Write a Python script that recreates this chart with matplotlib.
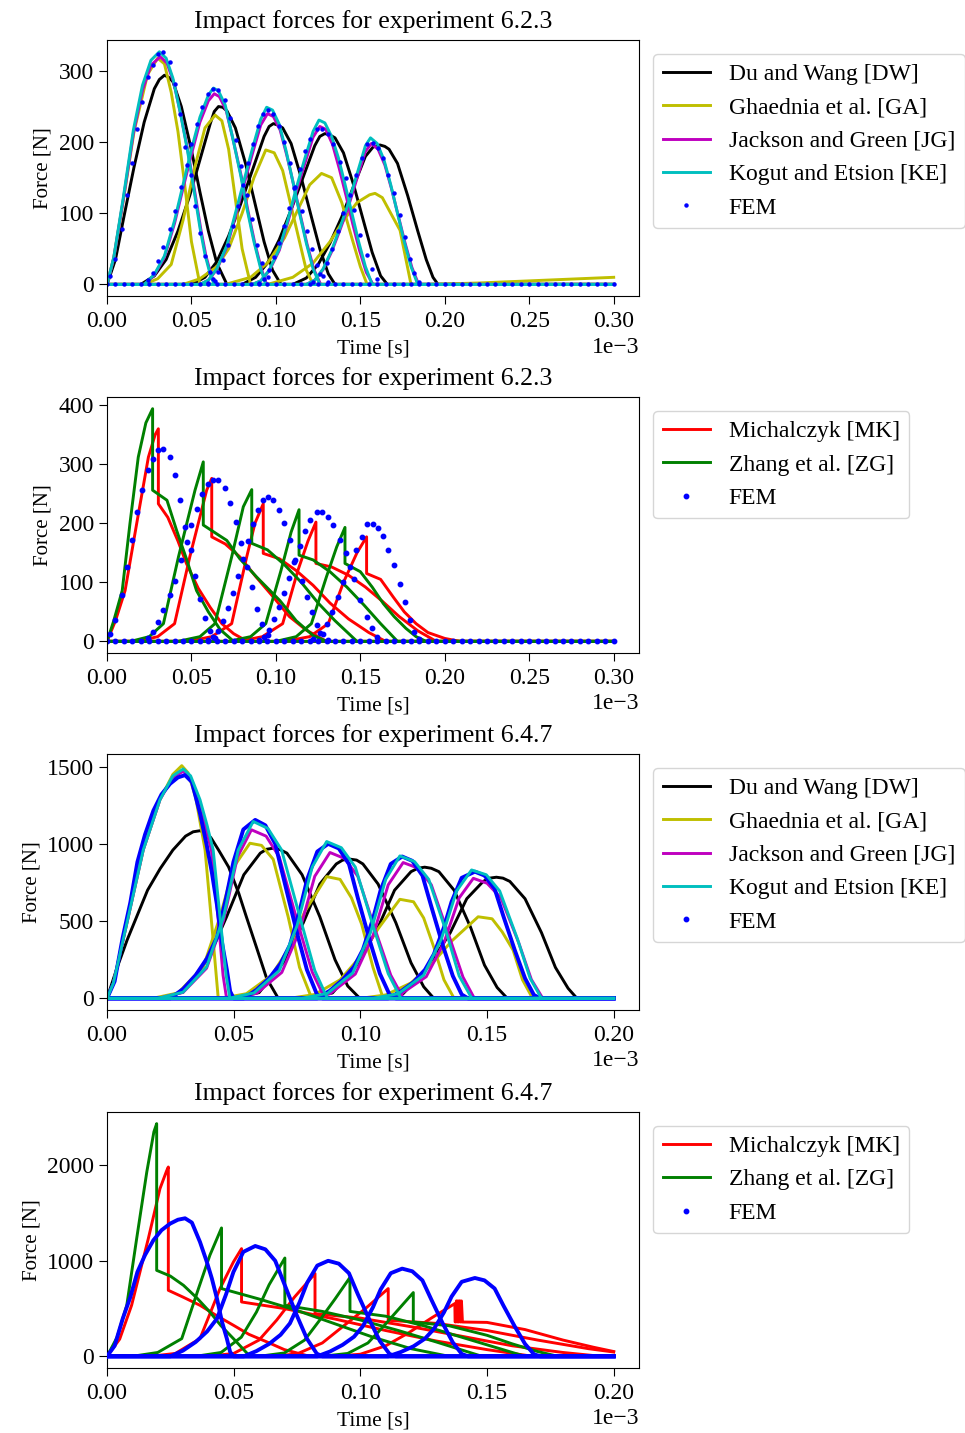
import matplotlib
matplotlib.use('Agg')
import matplotlib.pyplot as plt
from matplotlib.lines import Line2D

plt.rcParams['font.family'] = ['Liberation Serif', 'DejaVu Serif']
plt.rcParams['font.size'] = 17

# times are written in units of 1e-3 s (the axis offset), forces in N

# ---------------- experiment 6.2.3 ----------------
dw1_t = [[0, 0.005, 0.010, 0.016, 0.022, 0.028, 0.031, 0.034, 0.0365, 0.039, 0.044, 0.0496, 0.055, 0.060, 0.065, 0.071, 0.30],
         [0, 0.020, 0.028, 0.035, 0.042, 0.049, 0.055, 0.061, 0.0635, 0.066, 0.0685, 0.071, 0.076, 0.082, 0.088, 0.093, 0.098, 0.103, 0.30],
         [0, 0.050, 0.058, 0.065, 0.072, 0.079, 0.086, 0.093, 0.096, 0.0985, 0.101, 0.104, 0.109, 0.115, 0.121, 0.126, 0.131, 0.135, 0.30],
         [0, 0.080, 0.088, 0.095, 0.102, 0.109, 0.116, 0.123, 0.126, 0.129, 0.132, 0.135, 0.140, 0.146, 0.152, 0.157, 0.162, 0.166, 0.30],
         [0, 0.110, 0.118, 0.125, 0.132, 0.139, 0.146, 0.153, 0.1575, 0.1616, 0.1645, 0.167, 0.172, 0.178, 0.184, 0.189, 0.193, 0.196, 0.30]]
dw1_f = [[0, 35, 95, 165, 228, 275, 288, 294, 291, 285, 250, 193, 130, 75, 30, 0, 0],
         [0, 0, 12, 35, 75, 125, 175, 225, 243, 250, 249, 244, 220, 170, 110, 60, 20, 0, 0],
         [0, 0, 10, 32, 68, 112, 160, 208, 222, 226, 224, 220, 198, 150, 95, 50, 15, 0, 0],
         [0, 0, 10, 30, 63, 105, 150, 195, 208, 212, 210, 206, 185, 140, 88, 45, 12, 0, 0],
         [0, 0, 9, 28, 58, 95, 138, 180, 193, 196, 194, 190, 170, 125, 75, 35, 10, 0, 0]]

ga1_t = [[0, 0.004, 0.010, 0.016, 0.024, 0.030, 0.034, 0.038, 0.042, 0.046, 0.050, 0.055, 0.30],
         [0, 0.022, 0.030, 0.038, 0.045, 0.052, 0.058, 0.064, 0.068, 0.072, 0.076, 0.080, 0.085, 0.30],
         [0, 0.045, 0.055, 0.065, 0.072, 0.080, 0.087, 0.094, 0.099, 0.104, 0.109, 0.114, 0.118, 0.122, 0.30],
         [0, 0.070, 0.085, 0.095, 0.105, 0.113, 0.120, 0.127, 0.133, 0.139, 0.145, 0.150, 0.154, 0.30],
         [0, 0.095, 0.110, 0.122, 0.132, 0.140, 0.148, 0.1555, 0.1587, 0.163, 0.168, 0.1735, 0.177, 0.180, 0.30],
         [0, 0.190, 0.220, 0.250, 0.280, 0.300]]
ga1_f = [[0, 38, 123, 215, 295, 318, 310, 270, 215, 140, 60, 0, 0],
         [0, 0, 8, 28, 90, 165, 220, 238, 230, 190, 120, 50, 0, 0],
         [0, 0, 8, 25, 50, 100, 150, 189, 185, 160, 110, 60, 20, 0, 0],
         [0, 0, 10, 30, 65, 105, 140, 156, 150, 115, 65, 25, 0, 0],
         [0, 0, 10, 30, 60, 90, 115, 126, 128, 122, 100, 76, 35, 0, 0],
         [0, 0, 2, 5, 8, 10]]

jg1_t = [[0, 0.004, 0.0097, 0.0156, 0.021, 0.026, 0.0315, 0.0355, 0.0395, 0.044, 0.048, 0.0515, 0.0555, 0.0585, 0.0615, 0.064, 0.30],
         [0, 0.022, 0.028, 0.034, 0.040, 0.045, 0.050, 0.055, 0.060, 0.0635, 0.0665, 0.0705, 0.075, 0.0795, 0.0835, 0.0875, 0.0915, 0.0945, 0.30],
         [0, 0.055, 0.060, 0.065, 0.071, 0.076, 0.081, 0.086, 0.091, 0.095, 0.0985, 0.1025, 0.1065, 0.1105, 0.1145, 0.1185, 0.1225, 0.1265, 0.30],
         [0, 0.086, 0.091, 0.096, 0.102, 0.107, 0.112, 0.117, 0.122, 0.126, 0.1295, 0.1335, 0.1375, 0.1415, 0.1455, 0.1495, 0.1535, 0.1575, 0.30],
         [0, 0.118, 0.123, 0.128, 0.133, 0.138, 0.143, 0.148, 0.153, 0.1565, 0.1605, 0.1645, 0.1685, 0.1725, 0.1765, 0.1805, 0.1845, 0.30]]
jg1_f = [[0, 37, 120, 212, 273, 308, 320, 311, 284, 235, 186, 137, 78, 41, 14, 0, 0],
         [0, 0, 13, 38, 86, 135, 183, 228, 258, 268, 264, 245, 200, 152, 103, 58, 21, 0, 0],
         [0, 0, 6, 21, 53, 96, 140, 183, 224, 240, 236, 217, 181, 140, 97, 56, 21, 0, 0],
         [0, 0, 5, 19, 48, 87, 130, 169, 207, 222, 218, 197, 163, 125, 85, 48, 17, 0, 0],
         [0, 0, 6, 21, 46, 77, 110, 149, 187, 198, 190, 168, 134, 96, 58, 24, 0, 0]]

ke1_t = [[0, 0.004, 0.0097, 0.0156, 0.021, 0.026, 0.031, 0.035, 0.039, 0.0435, 0.0475, 0.051, 0.055, 0.058, 0.061, 0.0635, 0.30],
         [0, 0.022, 0.028, 0.034, 0.040, 0.045, 0.050, 0.055, 0.060, 0.063, 0.066, 0.070, 0.0745, 0.079, 0.083, 0.087, 0.091, 0.094, 0.30],
         [0, 0.055, 0.060, 0.065, 0.071, 0.076, 0.081, 0.086, 0.091, 0.0945, 0.098, 0.102, 0.106, 0.110, 0.114, 0.118, 0.122, 0.126, 0.30],
         [0, 0.086, 0.091, 0.096, 0.102, 0.107, 0.112, 0.117, 0.122, 0.1255, 0.129, 0.133, 0.137, 0.141, 0.145, 0.149, 0.153, 0.157, 0.30],
         [0, 0.118, 0.123, 0.128, 0.133, 0.138, 0.143, 0.148, 0.153, 0.156, 0.160, 0.164, 0.168, 0.172, 0.176, 0.180, 0.184, 0.30]]
ke1_f = [[0, 38, 123, 217, 280, 315, 327, 318, 290, 240, 190, 140, 80, 42, 15, 0, 0],
         [0, 0, 14, 40, 90, 140, 190, 235, 266, 276, 272, 252, 205, 155, 105, 60, 22, 0, 0],
         [0, 0, 6, 22, 55, 100, 145, 190, 232, 249, 245, 225, 188, 145, 100, 58, 22, 0, 0],
         [0, 0, 5, 20, 50, 90, 135, 176, 215, 231, 227, 208, 178, 140, 100, 60, 25, 0, 0],
         [0, 0, 6, 22, 48, 80, 115, 155, 195, 206, 198, 175, 140, 100, 60, 25, 0, 0]]

mk1_t = [[0, 0.005, 0.0107, 0.0176, 0.0245, 0.0285, 0.0304, 0.0304, 0.036, 0.042, 0.047, 0.054, 0.061, 0.068, 0.075, 0.083, 0.30],
         [0, 0.018, 0.030, 0.040, 0.049, 0.059, 0.062, 0.062, 0.070, 0.0787, 0.088, 0.0985, 0.108, 0.118, 0.130, 0.30],
         [0, 0.048, 0.062, 0.0738, 0.0827, 0.0876, 0.0925, 0.0925, 0.102, 0.112, 0.122, 0.132, 0.143, 0.155, 0.165, 0.30],
         [0, 0.078, 0.092, 0.104, 0.113, 0.119, 0.1237, 0.1237, 0.133, 0.143, 0.153, 0.163, 0.173, 0.184, 0.195, 0.30],
         [0, 0.105, 0.120, 0.131, 0.140, 0.148, 0.1537, 0.1537, 0.162, 0.1695, 0.176, 0.183, 0.190, 0.200, 0.209, 0.30]]
mk1_f = [[0, 35, 86, 200, 312, 350, 360, 233, 210, 170, 132, 90, 58, 30, 13, 0, 0],
         [0, 0, 8, 30, 143, 256, 276, 177, 165, 143, 110, 75, 42, 19, 0, 0],
         [0, 0, 8, 30, 143, 200, 233, 149, 140, 120, 95, 65, 38, 15, 0, 0],
         [0, 0, 8, 30, 120, 170, 202, 132, 126, 112, 92, 68, 42, 18, 0, 0],
         [0, 0, 8, 30, 100, 150, 177, 115, 105, 75, 50, 30, 15, 5, 0, 0]]

zg1_t = [[0, 0.004, 0.009, 0.0136, 0.0185, 0.023, 0.027, 0.027, 0.0355, 0.0412, 0.047, 0.053, 0.060, 0.067, 0.075, 0.30],
         [0, 0.014, 0.025, 0.0334, 0.0423, 0.0521, 0.057, 0.057, 0.065, 0.0709, 0.0786, 0.0886, 0.1024, 0.112, 0.122, 0.130, 0.30],
         [0, 0.042, 0.055, 0.0639, 0.0738, 0.0807, 0.0857, 0.0857, 0.095, 0.105, 0.115, 0.125, 0.135, 0.148, 0.30],
         [0, 0.072, 0.085, 0.094, 0.103, 0.109, 0.1137, 0.1137, 0.122, 0.132, 0.142, 0.152, 0.162, 0.172, 0.30],
         [0, 0.100, 0.112, 0.121, 0.130, 0.136, 0.1409, 0.1409, 0.150, 0.157, 0.1636, 0.170, 0.177, 0.183, 0.189, 0.30]]
zg1_f = [[0, 35, 86, 200, 312, 370, 394, 256, 239, 188, 140, 86, 50, 20, 0, 0],
         [0, 0, 8, 30, 143, 256, 304, 197, 182, 171, 140, 109, 69, 35, 10, 0, 0],
         [0, 0, 8, 30, 143, 228, 257, 166, 155, 130, 100, 65, 35, 0, 0],
         [0, 0, 8, 30, 120, 185, 223, 146, 138, 118, 92, 62, 30, 0, 0],
         [0, 0, 8, 30, 110, 160, 193, 132, 118, 92, 64, 42, 22, 8, 0, 0]]

fem1_t = [[0.0017, 0.0047, 0.0087, 0.0116, 0.0146, 0.0176, 0.0205, 0.024, 0.0274, 0.0304, 0.0334, 0.0371, 0.0403,
           0.0432, 0.0462, 0.0495, 0.0521, 0.055, 0.058, 0.061, 0.064],
          [0.0245, 0.0274, 0.0304, 0.0333, 0.0373, 0.0403, 0.0436, 0.0472, 0.0497, 0.0531, 0.056, 0.060, 0.063, 0.0659,
           0.0699, 0.0728, 0.0762, 0.0793, 0.0827, 0.086, 0.0886, 0.0916, 0.0955],
          [0.0595, 0.0625, 0.0655, 0.0685, 0.0715, 0.0745, 0.0775, 0.0805, 0.0835, 0.0865, 0.0895, 0.0926, 0.0955, 0.0985,
           0.102, 0.105, 0.1083, 0.1113, 0.1153, 0.1182, 0.1212, 0.1241, 0.128, 0.131],
          [0.090, 0.093, 0.096, 0.099, 0.102, 0.105, 0.108, 0.111, 0.114, 0.117, 0.120, 0.1241, 0.127, 0.131, 0.134,
           0.138, 0.1415, 0.146, 0.150, 0.1537, 0.157, 0.160],
          [0.122, 0.126, 0.130, 0.133, 0.1366, 0.140, 0.1439, 0.1474, 0.1508, 0.1537, 0.1577, 0.1606, 0.1636, 0.1666,
           0.1701, 0.1735, 0.1764, 0.1794, 0.182, 0.185]]
fem1_f = [[12, 36, 78, 126, 171, 219, 257, 291, 309, 324, 326, 312, 281, 240, 193, 154, 110, 72, 40, 17, 5],
          [6, 16, 33, 53, 78, 103, 137, 168, 197, 225, 250, 267, 274, 273, 259, 234, 203, 166, 126, 92, 55, 30, 10],
          [2, 7, 18, 34, 56, 82, 110, 140, 170, 198, 222, 239, 245, 239, 223, 200, 171, 137, 103, 75, 50, 27, 12, 3],
          [2, 8, 20, 38, 58, 82, 108, 135, 162, 187, 205, 219, 219, 211, 197, 172, 149, 105, 70, 41, 22, 8],
          [4, 14, 30, 50, 75, 100, 126, 154, 177, 198, 199, 192, 178, 154, 129, 98, 67, 36, 16, 4]]
fem1_zero_t = [0.000, 0.005, 0.010, 0.015, 0.020, 0.025, 0.030, 0.035, 0.040, 0.045, 0.050, 0.055, 0.060, 0.065,
               0.070, 0.075, 0.080, 0.085, 0.090, 0.095, 0.100, 0.105, 0.110, 0.115, 0.120, 0.125, 0.130, 0.135,
               0.140, 0.145, 0.150, 0.155, 0.160, 0.165, 0.170, 0.175, 0.180, 0.185, 0.190, 0.195, 0.200, 0.205,
               0.210, 0.215, 0.220, 0.225, 0.230, 0.235, 0.240, 0.245, 0.250, 0.255, 0.260, 0.265, 0.270, 0.275,
               0.280, 0.285, 0.290, 0.295, 0.300]

# ---------------- experiment 6.4.7 ----------------
dw3_t = [[0, 0.004, 0.008, 0.0117, 0.016, 0.021, 0.026, 0.031, 0.034, 0.0367, 0.039, 0.041, 0.044, 0.048, 0.052, 0.055, 0.059, 0.063, 0.0676, 0.20],
         [0, 0.020, 0.030, 0.040, 0.0472, 0.054, 0.0605, 0.063, 0.0656, 0.068, 0.071, 0.077, 0.084, 0.090, 0.095, 0.0998, 0.20],
         [0, 0.050, 0.060, 0.070, 0.0775, 0.084, 0.0905, 0.093, 0.0959, 0.0985, 0.101, 0.107, 0.114, 0.120, 0.125, 0.129, 0.20],
         [0, 0.079, 0.089, 0.099, 0.107, 0.1135, 0.120, 0.1227, 0.1254, 0.128, 0.131, 0.137, 0.1435, 0.149, 0.154, 0.158, 0.20],
         [0, 0.107, 0.117, 0.127, 0.1355, 0.142, 0.1485, 0.151, 0.1537, 0.1563, 0.159, 0.165, 0.1715, 0.177, 0.182, 0.1855, 0.20]]
dw3_f = [[0, 200, 380, 528, 700, 840, 960, 1050, 1078, 1085, 1072, 1040, 961, 850, 680, 528, 330, 130, 0, 0],
         [0, 0, 40, 260, 528, 800, 940, 965, 972, 965, 940, 800, 528, 250, 80, 0, 0],
         [0, 0, 37, 240, 490, 740, 870, 895, 901, 895, 870, 740, 490, 230, 75, 0, 0],
         [0, 0, 35, 225, 460, 700, 820, 842, 849, 842, 820, 700, 460, 215, 70, 0, 0],
         [0, 0, 32, 210, 425, 645, 757, 778, 784, 778, 757, 645, 425, 200, 65, 0, 0]]

ga3_t = [[0, 0.0025, 0.0084, 0.0143, 0.0209, 0.026, 0.0295, 0.032, 0.035, 0.0387, 0.0415, 0.0439, 0.20],
         [0, 0.018, 0.028, 0.038, 0.0446, 0.050, 0.0564, 0.061, 0.0656, 0.0715, 0.076, 0.0808, 0.20],
         [0, 0.045, 0.055, 0.065, 0.072, 0.078, 0.0867, 0.092, 0.0965, 0.1005, 0.105, 0.109, 0.20],
         [0, 0.072, 0.082, 0.092, 0.100, 0.107, 0.1156, 0.121, 0.125, 0.1294, 0.133, 0.137, 0.20],
         [0, 0.100, 0.110, 0.120, 0.128, 0.136, 0.1465, 0.152, 0.156, 0.1603, 0.164, 0.168, 0.20]]
ga3_f = [[0, 97, 528, 961, 1286, 1450, 1506, 1460, 1300, 961, 450, 0, 0],
         [0, 0, 35, 203, 528, 850, 1004, 990, 900, 528, 200, 0, 0],
         [0, 0, 30, 150, 330, 560, 788, 770, 650, 480, 200, 0, 0],
         [0, 0, 25, 120, 270, 450, 641, 625, 520, 312, 120, 0, 0],
         [0, 0, 22, 100, 220, 370, 528, 515, 430, 312, 120, 0, 0]]

jg3_t = [[0, 0.0025, 0.0084, 0.0143, 0.0209, 0.026, 0.0301, 0.033, 0.0362, 0.039, 0.0412, 0.0438, 0.0458, 0.0472, 0.20],
         [0, 0.020, 0.030, 0.0393, 0.046, 0.0515, 0.057, 0.0628, 0.068, 0.075, 0.081, 0.086, 0.20],
         [0, 0.049, 0.059, 0.069, 0.076, 0.082, 0.088, 0.0938, 0.099, 0.106, 0.112, 0.117, 0.20],
         [0, 0.078, 0.088, 0.098, 0.105, 0.111, 0.1169, 0.1227, 0.128, 0.135, 0.1405, 0.145, 0.20],
         [0, 0.106, 0.116, 0.126, 0.133, 0.139, 0.1446, 0.150, 0.1555, 0.1625, 0.1675, 0.172, 0.20]]
jg3_f = [[0, 97, 528, 961, 1286, 1430, 1470, 1420, 1286, 1100, 961, 528, 150, 0, 0],
         [0, 0, 38, 195, 505, 915, 1091, 1050, 915, 505, 170, 0, 0],
         [0, 0, 32, 168, 437, 790, 944, 905, 790, 437, 150, 0, 0],
         [0, 0, 30, 157, 405, 735, 879, 843, 735, 405, 138, 0, 0],
         [0, 0, 28, 140, 360, 650, 777, 745, 650, 360, 122, 0, 0]]

ke3_t = [[0, 0.0025, 0.0084, 0.0143, 0.0209, 0.026, 0.0301, 0.033, 0.0367, 0.0395, 0.0419, 0.0446, 0.047, 0.0485, 0.20],
         [0, 0.020, 0.030, 0.0393, 0.046, 0.0518, 0.0577, 0.0635, 0.0689, 0.0761, 0.082, 0.087, 0.20],
         [0, 0.048, 0.058, 0.068, 0.075, 0.081, 0.0867, 0.0925, 0.098, 0.105, 0.111, 0.116, 0.20],
         [0, 0.077, 0.087, 0.097, 0.104, 0.110, 0.1156, 0.1214, 0.127, 0.134, 0.139, 0.144, 0.20],
         [0, 0.105, 0.115, 0.125, 0.132, 0.138, 0.1439, 0.1497, 0.155, 0.162, 0.167, 0.1715, 0.20]]
ke3_f = [[0, 97, 528, 961, 1286, 1440, 1485, 1440, 1286, 1120, 961, 528, 150, 0, 0],
         [0, 0, 40, 203, 528, 961, 1145, 1100, 961, 528, 180, 0, 0],
         [0, 0, 35, 180, 470, 850, 1015, 975, 850, 470, 160, 0, 0],
         [0, 0, 32, 165, 425, 770, 922, 885, 770, 425, 145, 0, 0],
         [0, 0, 30, 150, 385, 695, 831, 800, 695, 385, 130, 0, 0]]

mk4_t = [[0, 0.005, 0.0097, 0.0163, 0.0209, 0.0235, 0.0242, 0.0242, 0.030, 0.0367, 0.043, 0.0499, 0.056, 0.063, 0.070, 0.080, 0.20],
         [0, 0.017, 0.027, 0.0367, 0.0446, 0.0499, 0.0531, 0.0531, 0.070, 0.090, 0.110, 0.130, 0.150, 0.168, 0.20],
         [0, 0.040, 0.050, 0.060, 0.067, 0.074, 0.0821, 0.0821, 0.100, 0.120, 0.140, 0.160, 0.180, 0.195, 0.20],
         [0, 0.065, 0.075, 0.085, 0.093, 0.102, 0.111, 0.111, 0.130, 0.150, 0.170, 0.190, 0.200],
         [0, 0.090, 0.100, 0.110, 0.119, 0.128, 0.1373, 0.1374, 0.1378, 0.1379, 0.1383, 0.1384, 0.1388, 0.1389,
          0.1393, 0.1394, 0.1398, 0.1399, 0.1403, 0.150, 0.165, 0.180, 0.192, 0.200]]
mk4_f = [[0, 180, 534, 1232, 1755, 1940, 1982, 691, 620, 534, 430, 325, 230, 152, 70, 0, 0],
         [0, 0, 30, 185, 709, 988, 1127, 569, 500, 390, 270, 160, 70, 0, 0],
         [0, 0, 30, 170, 380, 620, 866, 447, 400, 310, 210, 110, 40, 0, 0],
         [0, 0, 25, 140, 310, 500, 709, 377, 345, 270, 170, 80, 45],
         [0, 0, 22, 110, 245, 400, 552, 360, 360, 580, 580, 360, 360, 580, 580, 360, 360, 580, 359, 355, 280,
          170, 95, 50]]

zg4_t = [[0, 0.004, 0.0078, 0.0117, 0.0157, 0.0185, 0.0196, 0.0196, 0.025, 0.0302, 0.0355, 0.0406, 0.045, 0.0499, 0.0564, 0.20],
         [0, 0.010, 0.020, 0.0295, 0.0361, 0.0406, 0.0452, 0.0452, 0.060, 0.075, 0.090, 0.105, 0.120, 0.135, 0.20],
         [0, 0.035, 0.045, 0.053, 0.059, 0.064, 0.0702, 0.0702, 0.085, 0.100, 0.115, 0.130, 0.148, 0.20],
         [0, 0.060, 0.070, 0.078, 0.084, 0.090, 0.0959, 0.0959, 0.110, 0.125, 0.140, 0.155, 0.165, 0.20],
         [0, 0.085, 0.095, 0.103, 0.109, 0.115, 0.1209, 0.1209, 0.135, 0.150, 0.160, 0.170, 0.178, 0.20]]
zg4_f = [[0, 200, 534, 1232, 1930, 2350, 2436, 900, 840, 743, 610, 464, 320, 185, 0, 0],
         [0, 0, 40, 185, 709, 1058, 1344, 709, 600, 480, 340, 200, 80, 0, 0],
         [0, 0, 40, 200, 464, 750, 1029, 534, 470, 380, 270, 150, 0, 0],
         [0, 0, 35, 170, 380, 600, 826, 470, 420, 320, 200, 80, 0, 0],
         [0, 0, 30, 140, 310, 490, 667, 359, 320, 220, 130, 50, 0, 0]]

fem3_t = [[0, 0.003, 0.0062, 0.0092, 0.012, 0.0150, 0.0183, 0.0215, 0.0249, 0.0280, 0.0308, 0.0335, 0.0367, 0.0394,
           0.0414, 0.0434, 0.0454, 0.0473, 0.0486, 0.050, 0.20],
          [0, 0.025, 0.030, 0.035, 0.0395, 0.0434, 0.047, 0.0499, 0.0538, 0.0585, 0.0625, 0.0664, 0.0702, 0.0749,
           0.0789, 0.0828, 0.085, 0.20],
          [0, 0.054, 0.059, 0.064, 0.0685, 0.0722, 0.076, 0.079, 0.083, 0.0873, 0.0915, 0.0955, 0.099, 0.1037,
           0.1077, 0.1115, 0.114, 0.20],
          [0, 0.083, 0.088, 0.093, 0.0975, 0.101, 0.105, 0.108, 0.112, 0.1165, 0.1205, 0.1245, 0.128, 0.1325,
           0.1365, 0.140, 0.1425, 0.20],
          [0, 0.111, 0.116, 0.121, 0.1255, 0.129, 0.133, 0.136, 0.140, 0.1452, 0.149, 0.153, 0.1565, 0.161,
           0.165, 0.1685, 0.171, 0.20]]
fem3_f = [[0, 110, 394, 620, 883, 1060, 1215, 1320, 1389, 1430, 1445, 1400, 1197, 988, 813, 604, 360, 185, 45, 0, 0],
          [0, 0, 60, 150, 260, 394, 650, 883, 1093, 1155, 1120, 1000, 743, 429, 185, 28, 0, 0],
          [0, 0, 55, 130, 225, 345, 565, 770, 950, 1000, 970, 870, 650, 375, 160, 25, 0, 0],
          [0, 0, 50, 120, 205, 315, 515, 700, 870, 918, 890, 795, 595, 345, 145, 25, 0, 0],
          [0, 0, 45, 105, 185, 285, 460, 625, 780, 820, 795, 710, 530, 310, 130, 22, 0, 0]]

x_ticks_623 = [0.00, 0.05, 0.10, 0.15, 0.20, 0.25, 0.30]
x_ticks_647 = [0.00, 0.05, 0.10, 0.15, 0.20]
y_ticks = [[0, 100, 200, 300], [0, 100, 200, 300, 400], [0, 500, 1000, 1500], [0, 1000, 2000]]
titles = ['Impact forces for experiment 6.2.3', 'Impact forces for experiment 6.2.3',
          'Impact forces for experiment 6.4.7', 'Impact forces for experiment 6.4.7']

lab_dw = 'Du and Wang [DW]'
lab_ga = 'Ghaednia et al. [GA]'
lab_jg = 'Jackson and Green [JG]'
lab_ke = 'Kogut and Etsion [KE]'
lab_mk = 'Michalczyk [MK]'
lab_zg = 'Zhang et al. [ZG]'


def draw(ax, t_list, f_list, color, label, lw=2.1, zorder=2):
    for i, (t, f) in enumerate(zip(t_list, f_list)):
        ax.plot([x * 1e-3 for x in t], f, color=color, lw=lw, zorder=zorder,
                solid_joinstyle='round', label=label if i == 0 else None)


def setup(ax, title, xticks, yticks):
    ax.set_title(title, fontsize=18.5, pad=9)
    ax.set_xlabel('Time [s]', fontsize=15.5, labelpad=5)
    ax.set_ylabel('Force [N]', fontsize=15)
    ax.set_xticks([x * 1e-3 for x in xticks])
    ax.set_xlim(0, xticks[-1] * 1.05e-3)
    ax.set_yticks(yticks)
    ax.ticklabel_format(axis='x', style='sci', scilimits=(-3, -3))
    ax.tick_params(labelsize=17, length=6)
    ax.tick_params(axis='x', pad=5)
    ax.xaxis.get_offset_text().set_fontsize(17)


fig = plt.figure(figsize=(9.65, 14.33), dpi=100)
left, width, height = 0.1109, 0.5513, 0.1786
bottoms = [0.7934, 0.5443, 0.2952, 0.0454]
axs = [fig.add_axes([left, b, width, height]) for b in bottoms]

# panel 1
ax = axs[0]
draw(ax, dw1_t, dw1_f, 'k', lab_dw)
draw(ax, ga1_t, ga1_f, 'y', lab_ga)
draw(ax, jg1_t, jg1_f, 'm', lab_jg)
draw(ax, ke1_t, ke1_f, 'c', lab_ke)
ax.plot([x * 1e-3 for x in fem1_zero_t], [0] * len(fem1_zero_t), 'o', color='b', ms=2.2, label='FEM')
for t, f in zip(fem1_t, fem1_f):
    ax.plot([x * 1e-3 for x in t], f, 'o', color='b', ms=2.2)
setup(ax, titles[0], x_ticks_623, y_ticks[0])
ax.legend(loc='upper left', bbox_to_anchor=(1.0, 1.0), borderaxespad=0.6, fontsize=17)

# panel 2
ax = axs[1]
draw(ax, mk1_t, mk1_f, 'r', lab_mk)
draw(ax, zg1_t, zg1_f, 'g', lab_zg)
ax.plot([x * 1e-3 for x in fem1_zero_t], [0] * len(fem1_zero_t), 'o', color='b', ms=3.2, label='FEM')
for t, f in zip(fem1_t, fem1_f):
    ax.plot([x * 1e-3 for x in t], f, 'o', color='b', ms=3.2)
setup(ax, titles[1], x_ticks_623, y_ticks[1])
ax.legend(loc='upper left', bbox_to_anchor=(1.0, 1.0), borderaxespad=0.6, fontsize=17)

fem_handle = Line2D([], [], ls='', marker='o', color='b', ms=3.2, label='FEM')

# panel 3
ax = axs[2]
draw(ax, dw3_t, dw3_f, 'k', lab_dw)
draw(ax, ga3_t, ga3_f, 'y', lab_ga)
draw(ax, jg3_t, jg3_f, 'm', lab_jg)
draw(ax, fem3_t, fem3_f, 'b', None, lw=2.8, zorder=2)
draw(ax, ke3_t, ke3_f, 'c', lab_ke)
setup(ax, titles[2], x_ticks_647, y_ticks[2])
h, l = ax.get_legend_handles_labels()
ax.legend(h + [fem_handle], l + ['FEM'], loc='upper left', bbox_to_anchor=(1.0, 1.0),
          borderaxespad=0.6, fontsize=17)

# panel 4
ax = axs[3]
draw(ax, mk4_t, mk4_f, 'r', lab_mk)
draw(ax, zg4_t, zg4_f, 'g', lab_zg)
draw(ax, fem3_t, fem3_f, 'b', None, lw=2.8, zorder=3)
setup(ax, titles[3], x_ticks_647, y_ticks[3])
h, l = ax.get_legend_handles_labels()
ax.legend(h + [fem_handle], l + ['FEM'], loc='upper left', bbox_to_anchor=(1.0, 1.0),
          borderaxespad=0.6, fontsize=17)

fig.savefig('out.png', dpi=100)
